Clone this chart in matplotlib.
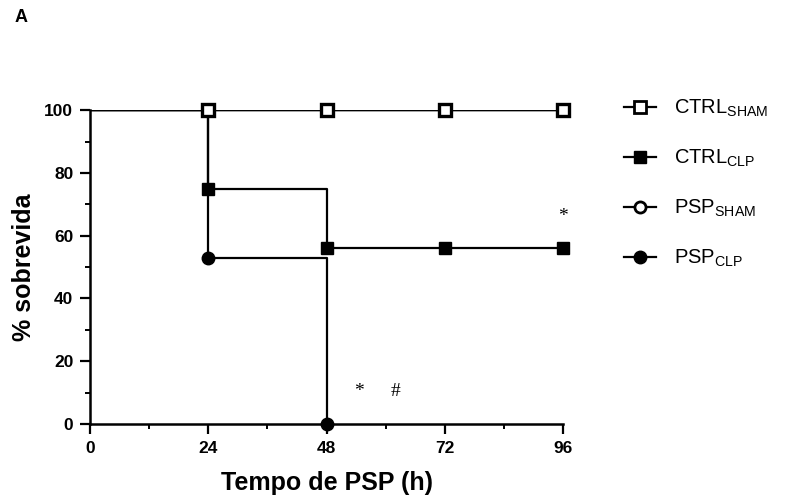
import matplotlib
matplotlib.use('Agg')
import matplotlib.pyplot as plt
from matplotlib.ticker import MultipleLocator
from matplotlib.lines import Line2D

# Dados (curvas de sobrevida, degraus)
tempos = [0, 24, 48, 72, 96]
ctrl_sham = [100, 100, 100, 100, 100]
psp_sham = [100, 100, 100, 100, 100]
ctrl_clp = [100, 75, 56, 56, 56]
tempos_psp_clp = [0, 24, 48]
psp_clp = [100, 53, 0]

rotulos = ['CTRL$_{\\mathregular{SHAM}}$', 'CTRL$_{\\mathregular{CLP}}$',
           'PSP$_{\\mathregular{SHAM}}$', 'PSP$_{\\mathregular{CLP}}$']
xticks = [0, 24, 48, 72, 96]
yticks = [0, 20, 40, 60, 80, 100]

plt.rcParams['font.family'] = ['Liberation Sans', 'DejaVu Sans']

fig = plt.figure(figsize=(7.87, 5.03), dpi=100)
ax = fig.add_axes([0.1144, 0.157, 0.6010, 0.624])

lw = 1.6
ms = 9
# linhas em degrau
ax.step(tempos, psp_sham, where='post', color='black', lw=1.0, zorder=2)
ax.step(tempos, ctrl_sham, where='post', color='black', lw=1.0, zorder=2)
ax.step(tempos, ctrl_clp, where='post', color='black', lw=lw, zorder=3)
ax.step(tempos_psp_clp, psp_clp, where='post', color='black', lw=lw, zorder=3)

# marcadores
ax.plot(tempos[1:], psp_sham[1:], 'o', ms=ms - 1, mfc='white', mec='black',
        mew=2, clip_on=False, zorder=4)
ax.plot(tempos[1:], ctrl_sham[1:], 's', ms=ms, mfc='white', mec='black',
        mew=2.4, clip_on=False, zorder=5)
ax.plot(tempos[1:], ctrl_clp[1:], 's', ms=ms, color='black', clip_on=False, zorder=6)
ax.plot(tempos_psp_clp[1:], psp_clp[1:], 'o', ms=ms, color='black', clip_on=False, zorder=7)

# significancia
ax.text(96, 66, '*', fontsize=14, ha='center', va='center', family='Liberation Serif')
ax.text(54.5, 10.5, '*', fontsize=14, ha='center', va='center', family='Liberation Serif')
ax.text(62, 10.5, '#', fontsize=14, ha='center', va='center', family='Liberation Serif')

ax.set_xlim(0, 96)
ax.set_ylim(0, 100)
ax.set_xticks(xticks)
ax.set_yticks(yticks)
ax.xaxis.set_minor_locator(MultipleLocator(12))
ax.yaxis.set_minor_locator(MultipleLocator(10))
for s in ['top', 'right']:
    ax.spines[s].set_visible(False)
for s in ['left', 'bottom']:
    ax.spines[s].set_linewidth(1.8)
ax.tick_params(which='major', length=7, width=1.6, labelsize=12.5, pad=5)
ax.tick_params(which='minor', length=3.5, width=1.4)
for lab in ax.get_xticklabels() + ax.get_yticklabels():
    lab.set_fontweight('bold')

ax.set_xlabel('Tempo de PSP (h)', fontsize=18, fontweight='bold', labelpad=11)
ax.set_ylabel('% sobrevida', fontsize=18, fontweight='bold', labelpad=6)

fig.text(0.019, 0.965, 'A', fontsize=13, fontweight='bold', va='center')

# legenda
handles = [
    Line2D([], [], color='black', lw=lw, marker='s', ms=ms, mfc='white', mec='black', mew=2),
    Line2D([], [], color='black', lw=lw, marker='s', ms=ms),
    Line2D([], [], color='black', lw=lw, marker='o', ms=ms - 1, mfc='white', mec='black', mew=2),
    Line2D([], [], color='black', lw=lw, marker='o', ms=ms),
]
fig.legend(handles, rotulos, loc='upper left', bbox_to_anchor=(0.77, 0.842),
           frameon=False, fontsize=14.5, handlelength=1.6, handletextpad=0.9,
           labelspacing=1.43)

fig.savefig('out.png', dpi=100)
